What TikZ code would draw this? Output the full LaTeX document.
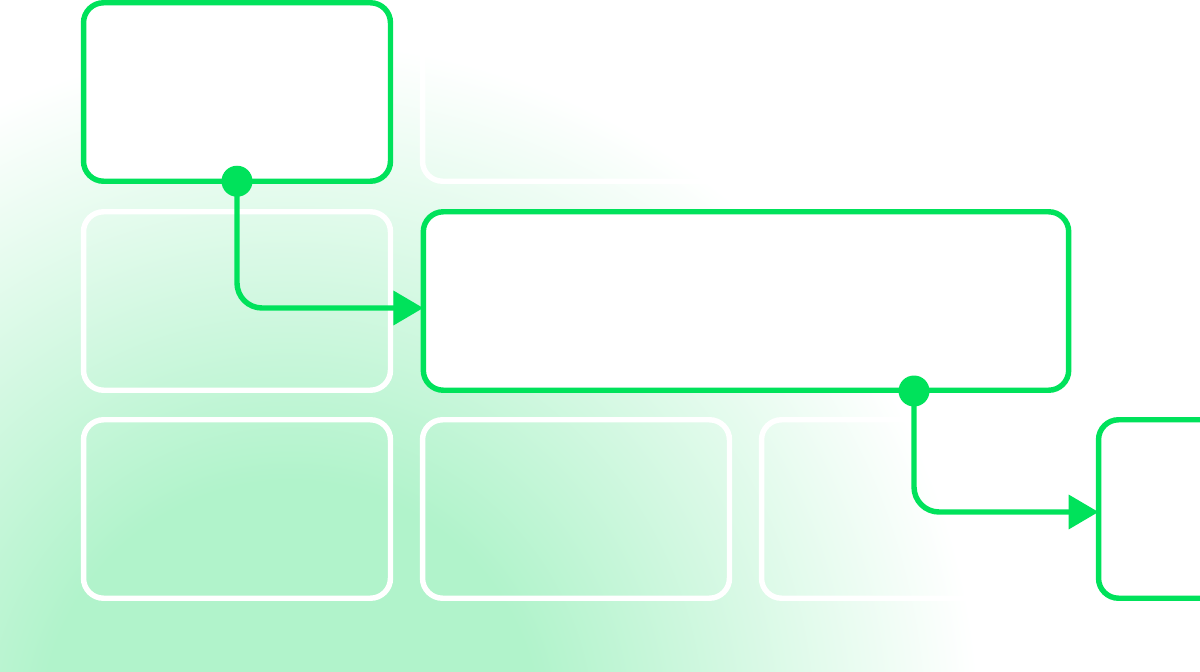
\documentclass[tikz,border=0pt]{standalone}
\usetikzlibrary{arrows.meta}

\definecolor{brand}{HTML}{00E25B}
\definecolor{glow}{HTML}{B1F3CB}
\pgfdeclareradialshading{bgglow}{\pgfpoint{0bp}{0bp}}{color(0bp)=(glow); color(9bp)=(glow); color(25bp)=(white); color(50bp)=(white)}

\begin{document}
\begin{tikzpicture}[x=0.02cm, y=-0.02cm,
	card/.style = {rectangle, rounded corners=0.4cm, line width=3.1pt, inner sep=0pt, outer sep=0pt, minimum width=6.14cm, minimum height=3.57cm},
	active/.style = {card, draw=brand, fill=white},
	ghost/.style = {card, draw=white},
	joint/.style = {circle, fill=brand, inner sep=0pt, minimum size=0.62cm},
	link/.style = {draw=brand, line width=3.1pt, rounded corners=0.5cm, -{Triangle[length=17pt,width=19pt]}},]
		% background
		\useasboundingbox (0,0) rectangle (1200,672);
		\begin{scope}
			\clip (0,0) rectangle (1200,672);
			\shade[shading=bgglow] (290,730) circle (690);
		\end{scope}
		
		\node[ghost] (G12) at (576,92) {};
		\node[ghost] (G21) at (237,301) {};
		\node[ghost] (G31) at (237,509) {};
		\node[ghost] (G32) at (576,509) {};
		\node[ghost] (G33) at (915,509) {};
		
		\node[active] (Start) at (237,92) {};
		\node[active, minimum width=12.91cm] (Mid) at (746,301) {};
		\node[active] (Last) at (1252,509) {};
		
		\node[joint] (J1) at (Start.south) {};
		\node[joint] (J2) at (914,391) {};
		
		\draw[link] (J1.center) |- ([yshift=-0.14cm]Mid.west);
		\draw[link] (J2.center) |- ([yshift=-0.06cm]Last.west);
	\end{tikzpicture}
\end{document}
